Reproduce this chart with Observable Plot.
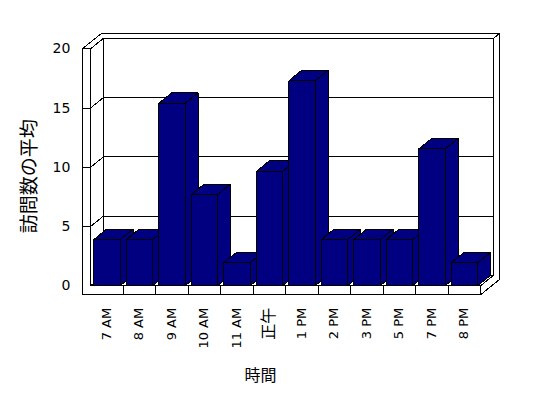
<!DOCTYPE html>
<html>
<head>
<meta charset="utf-8">
<script src="https://cdn.jsdelivr.net/npm/d3@7"></script>
<script src="https://cdn.jsdelivr.net/npm/@observablehq/plot@0.6"></script>
<style>
  html, body { margin: 0; padding: 0; background: #fff; }
  #chart svg { display: block; }
</style>
</head>
<body>
<div id="chart"></div>
<script>
// ---- data ----
const hours = ["7 AM", "8 AM", "9 AM", "10 AM", "11 AM", "正午", "1 PM", "2 PM", "3 PM", "5 PM", "7 PM", "8 PM"];
const visits = [3.9, 3.9, 15.4, 7.7, 1.95, 9.65, 17.3, 3.9, 3.9, 3.9, 11.55, 1.95];
const yTicks = [0, 5, 10, 15, 20];
const yTitle = "訪問数の平均";
const xTitle = "時間";

// ---- 3D (oblique) projection helpers, in data units ----
const N = hours.length;
const TOP = yTicks[yTicks.length - 1];
const KX = 0.4, KY = 0.886;      // offset per unit of depth
const WALL = -0.25, FLOOR = -0.76, BACK = 1, OUT = 1.45;
const P = (X, Y, Z) => ({x: X + KX * Z, y: Y + KY * Z});

function addPoly(list, id, pts, closed = true) {
  const ring = closed ? pts.concat([pts[0]]) : pts;
  ring.forEach(p => list.push({id, ...P(p[0], p[1], p[2])}));
}

// structure faces
const inner = [];
addPoly(inner, "back", [[0, 0, BACK], [N, 0, BACK], [N, TOP, BACK], [0, TOP, BACK]]);
addPoly(inner, "leftInner", [[0, 0, 0], [0, 0, BACK], [0, TOP, BACK], [0, TOP, 0]]);
addPoly(inner, "floorTop", [[0, 0, 0], [N, 0, 0], [N, 0, BACK], [0, 0, BACK]]);
const outer = [];
addPoly(outer, "frontL", [[WALL, TOP, 0], [0, TOP, 0], [0, 0, 0], [N, 0, 0], [N, FLOOR, 0], [WALL, FLOOR, 0]]);
addPoly(outer, "topL", [[WALL, TOP, 0], [0, TOP, 0], [0, TOP, BACK], [N, TOP, BACK], [N, TOP, OUT], [WALL, TOP, OUT]]);
addPoly(outer, "rightL", [[N, TOP, BACK], [N, TOP, OUT], [N, FLOOR, OUT], [N, FLOOR, 0], [N, 0, 0], [N, 0, BACK]]);

// gridlines (front wall face -> left wall inner face -> back wall)
const grid = [];
yTicks.filter(t => t > 0 && t < TOP).forEach(t =>
  addPoly(grid, "g" + t, [[WALL, t, 0], [0, t, 0], [0, t, BACK], [N, t, BACK]], false));
// category separators on floor front
hours.forEach((h, i) => { if (i > 0) addPoly(grid, "s" + i, [[i, FLOOR, 0], [i, 0, 0]], false); });

// bars
const bars = [];
visits.forEach((v, i) => {
  const x0 = i + 0.1, x1 = i + 0.91;
  addPoly(bars, "side" + i, [[x1, 0, 0], [x1, 0, BACK], [x1, v, BACK], [x1, v, 0]]);
  addPoly(bars, "top" + i, [[x0, v, 0], [x1, v, 0], [x1, v, BACK], [x0, v, BACK]]);
  addPoly(bars, "front" + i, [[x0, 0, 0], [x1, 0, 0], [x1, v, 0], [x0, v, 0]]);
});

const lineStyle = {x: "x", y: "y", z: "id", stroke: "black", strokeWidth: 1,
  strokeLinejoin: "miter", strokeLinecap: "butt", curve: "linear", shapeRendering: "crispEdges"};

const font = "'DejaVu Sans', 'Noto Sans CJK JP', sans-serif";
const isCJK = s => /[^\x00-\x7F]/.test(s);

const chart = Plot.plot({
  width: 548,
  height: 398,
  marginLeft: 82,
  marginRight: 48,
  marginTop: 20,
  marginBottom: 103,
  x: {type: "linear", domain: [0, N], range: [90, 480], axis: null},
  y: {type: "linear", domain: [0, TOP], range: [285.3, 48.3], axis: null},
  style: {fontFamily: font, fontSize: "13px", background: "#fff", color: "black"},
  marks: [
    Plot.line(inner, {...lineStyle, fill: "white"}),
    Plot.line(outer, {...lineStyle, fill: "white"}),
    Plot.line(grid, {...lineStyle, fill: "none"}),
    Plot.line(bars, {...lineStyle, fill: "#000080"}),
    // y tick labels
    Plot.text(yTicks, {x: () => WALL, y: d => d, text: d => String(d), textAnchor: "end", dx: -12,
      fontSize: 14, fill: "black"}),
    // x tick labels
    Plot.text(hours, {x: (d, i) => i + 0.5, y: () => FLOOR, text: d => d, rotate: -90, textAnchor: "end",
      dy: 13, fontSize: d => isCJK(d) ? 16 : 13, fill: "black"}),
    // axis titles
    Plot.text([yTitle], {x: () => WALL, y: () => TOP / 2, text: d => d, rotate: -90, dx: -52, dy: 9,
      fontSize: 19, fill: "black"}),
    Plot.text([xTitle], {x: () => N / 2, y: () => FLOOR, text: d => d, dx: -25, dy: 81,
      fontSize: 16, fill: "black"})
  ]
});

document.getElementById("chart").appendChild(chart);
</script>
</body>
</html>
